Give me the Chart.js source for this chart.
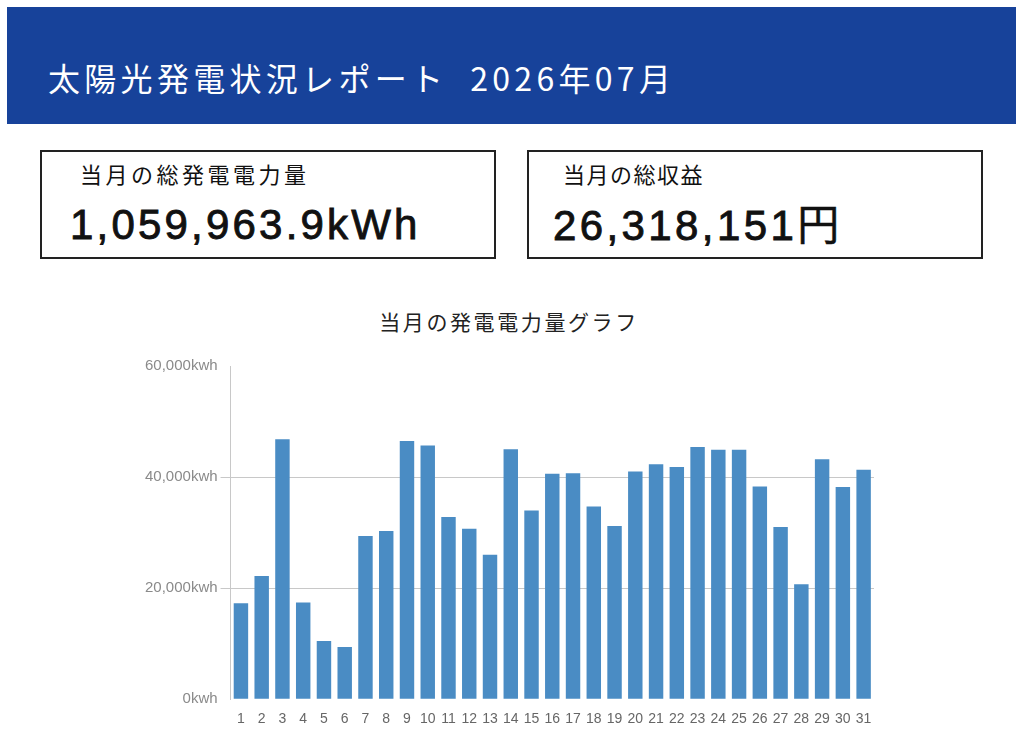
<!DOCTYPE html>
<html lang="ja">
<head>
<meta charset="utf-8">
<title>太陽光発電状況レポート</title>
<script src="https://cdn.jsdelivr.net/npm/chart.js@4.4.1/dist/chart.umd.min.js"></script>
<style>
  html, body { margin: 0; padding: 0; background: #fff; }
  body { width: 1024px; height: 739px; position: relative; overflow: hidden;
         font-family: "Noto Sans CJK JP", "Noto Sans", sans-serif; }
  .header { position: absolute; left: 7px; top: 7px; width: 1009px; height: 117px;
            background: #17429a; }
  .header h1 { position: absolute; left: 41px; top: 54px; margin: 0; color: #fff; white-space: pre;
               font-size: 32px; font-weight: 400; letter-spacing: 4.3px; line-height: 1; }
  .box { position: absolute; top: 150px; width: 452px; height: 105px;
         border: 2px solid #222; box-sizing: content-box; }
  .box .label { position: absolute; top: 10px; font-size: 22px; line-height: 1;
                letter-spacing: 3.5px; color: #111; }
  .box .value { position: absolute; font-family: "Liberation Sans", Arial, sans-serif;
                font-size: 42px; font-weight: normal; line-height: 1; letter-spacing: 3.2px;
                color: #111; -webkit-text-stroke: 0.9px #111; white-space: nowrap; }
  .box .value .yen { font-family: "Noto Sans CJK JP", sans-serif; -webkit-text-stroke: 0.5px #111; }
  #box1 { left: 40px; }
  #box2 { left: 527px; }
  #chartTitle { position: absolute; left: 140px; width: 738px; top: 309px; text-align: center;
                font-size: 21px; line-height: 1.2; letter-spacing: 2.6px; color: #222; }
  #chartWrap { position: absolute; left: 140px; top: 300px; width: 738px; height: 434px; }
</style>
</head>
<body>
<div class="header"><h1>太陽光発電状況レポート  2026年07月</h1></div>

<div class="box" id="box1">
  <div class="label" style="left:38px">当月の総発電電力量</div>
  <div class="value" style="left:28px;top:52px">1,059,963.9kWh</div>
</div>
<div class="box" id="box2">
  <div class="label" style="left:34px;letter-spacing:1.5px">当月の総収益</div>
  <div class="value" style="left:24px;top:49px;letter-spacing:3.4px">26,318,151<span class="yen">円</span></div>
</div>

<div id="chartTitle">当月の発電電力量グラフ</div>
<div id="chartWrap"><canvas id="genChart"></canvas></div>

<script>
// 日別の発電電力量 (kWh)、グラフから読み取り
const days = ['1','2','3','4','5','6','7','8','9','10','11','12','13','14','15','16',
              '17','18','19','20','21','22','23','24','25','26','27','28','29','30','31'];
const dailyKwh = [17300, 22200, 46800, 17400, 10500, 9400, 29400, 30300, 46500, 45700,
                  32800, 30700, 26000, 45000, 34000, 40600, 40700, 34700, 31200, 41000,
                  42300, 41800, 45400, 44900, 44900, 38300, 31000, 20700, 43200, 38200, 41300];
const yTicks = [0, 20000, 40000, 60000];

function initializeGenChart() {
    const ctx = document.getElementById('genChart');
    if (!ctx) {
        console.error('#genChart が見つかりません');
        return;
    }

    new Chart(ctx, {
        type: 'bar',
        data: {
            labels: days,
            datasets: [{
                label: '発電電力量',
                data: dailyKwh,
                backgroundColor: '#4a8cc4',
                borderWidth: 0,
                categoryPercentage: 0.8,
                barPercentage: 0.87
            }]
        },
        options: {
            responsive: true,
            maintainAspectRatio: false,
            animation: false,
            layout: {
                padding: { left: 2, right: 4, top: 66, bottom: 2 }
            },
            plugins: {
                legend: { display: false },
                tooltip: { enabled: false },
                title: { display: false }
            },
            scales: {
                x: {
                    grid: { display: false },
                    border: { display: false },
                    ticks: {
                        color: '#666',
                        autoSkip: false,
                        maxRotation: 0,
                        padding: 4,
                        font: { family: '"Liberation Sans", Arial, sans-serif', size: 14 }
                    }
                },
                y: {
                    min: 0,
                    max: 60000,
                    afterBuildTicks: function (axis) {
                        axis.ticks = yTicks.map(v => ({ value: v }));
                    },
                    grid: {
                        color: function (c) {
                            const v = c.tick ? c.tick.value : null;
                            return (v === 0 || v === 60000) ? 'rgba(0,0,0,0)' : '#c8c8c8';
                        },
                        lineWidth: 1,
                        tickLength: 10
                    },
                    border: { display: true, color: '#c8c8c8', width: 1 },
                    ticks: {
                        color: '#8a8a8a',
                        padding: 3,
                        font: { family: '"Liberation Sans", Arial, sans-serif', size: 15 },
                        callback: function (value) {
                            return value.toLocaleString('en-US') + 'kwh';
                        }
                    }
                }
            }
        }
    });
}

if (document.readyState === 'complete') {
    initializeGenChart();
} else {
    document.addEventListener('DOMContentLoaded', initializeGenChart);
}
</script>
</body>
</html>
